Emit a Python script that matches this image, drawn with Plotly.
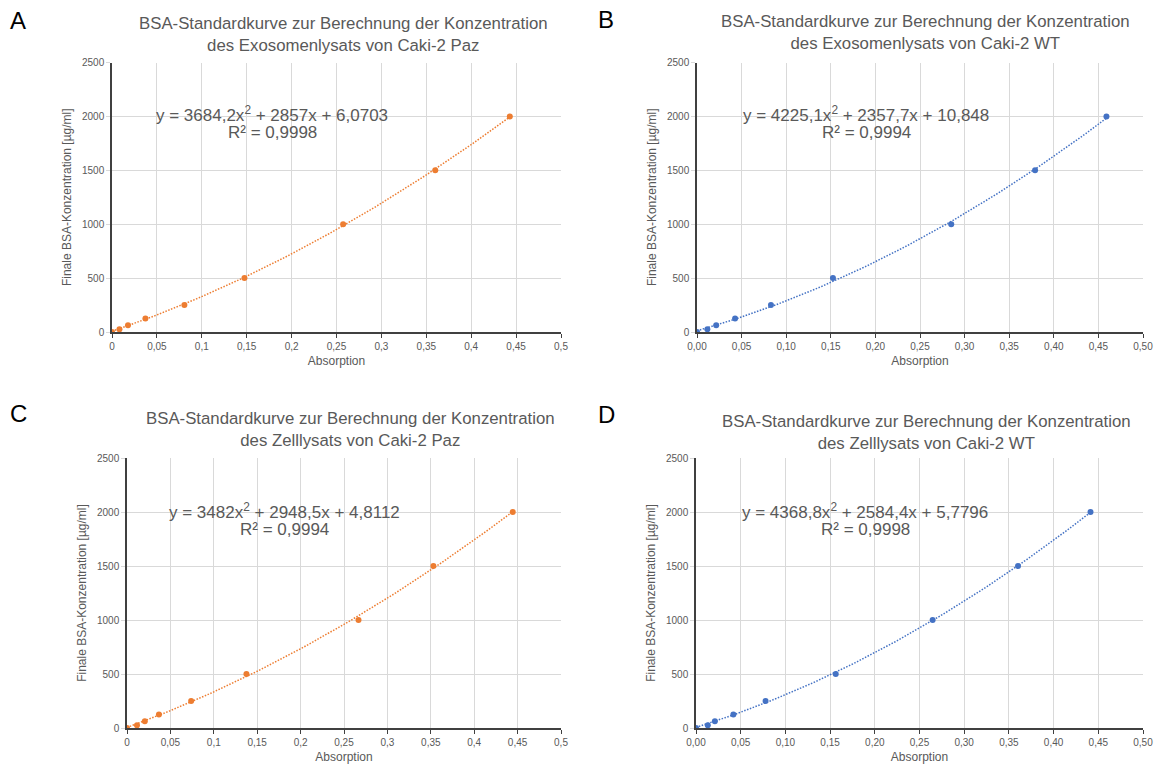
import numpy as np
import plotly.graph_objects as go

# BSA-Standards (µg/ml), gleich für alle vier Kurven
konz = [0, 25, 62.5, 125, 250, 500, 1000, 1500, 2000]

abs_exo_paz = [0, 0.0083, 0.0178, 0.0372, 0.0806, 0.1475, 0.2574, 0.360, 0.443]
abs_exo_wt = [0, 0.0116, 0.0215, 0.0427, 0.0829, 0.1524, 0.285, 0.379, 0.459]
abs_zell_paz = [0, 0.0115, 0.0205, 0.0368, 0.0739, 0.1376, 0.2667, 0.353, 0.4444]
abs_zell_wt = [0, 0.0132, 0.0211, 0.0418, 0.0778, 0.1563, 0.2647, 0.3602, 0.4413]

# Trendlinien-Koeffizienten (Polynom 2. Grades, aus Excel)
koef_exo_paz = [3684.2, 2857, 6.0703]
koef_exo_wt = [4225.1, 2357.7, 10.848]
koef_zell_paz = [3482, 2948.5, 4.8112]
koef_zell_wt = [4368.8, 2584.4, 5.7796]

gleichungen = [
    ("y = 3684,2x<sup>2</sup> + 2857x + 6,0703", "R² = 0,9998"),
    ("y = 4225,1x<sup>2</sup> + 2357,7x + 10,848", "R² = 0,9994"),
    ("y = 3482x<sup>2</sup> + 2948,5x + 4,8112", "R² = 0,9994"),
    ("y = 4368,8x<sup>2</sup> + 2584,4x + 5,7796", "R² = 0,9998"),
]

titel = [
    "BSA-Standardkurve zur Berechnung der Konzentration<br>des Exosomenlysats von Caki-2 Paz",
    "BSA-Standardkurve zur Berechnung der Konzentration<br>des Exosomenlysats von Caki-2 WT",
    "BSA-Standardkurve zur Berechnung der Konzentration<br>des Zelllysats von Caki-2 Paz",
    "BSA-Standardkurve zur Berechnung der Konzentration<br>des Zelllysats von Caki-2 WT",
]
buchstaben = ["A", "B", "C", "D"]

ORANGE = "#ED7D31"
BLAU = "#4472C4"
GRAU = "#595959"
W, H = 1158, 765

# Plotbereiche in Pixeln: links, rechts, oben, unten
bereiche = [
    (112, 561, 62.5, 332),
    (697, 1143, 62.5, 332),
    (127, 561, 458, 728),
    (696, 1143, 458, 728),
]
# Positionen der Texte in Pixeln
titel_pos = [(343, 35), (925, 33), (350, 429), (926, 432)]
buchst_pos = [(18, 20), (606, 19), (18, 413), (606, 415)]
gl_pos = [(272, 114, 132), (866, 114, 132), (284, 511, 529), (865, 511, 529)]

daten = [
    (abs_exo_paz, koef_exo_paz, ORANGE, ".2~f"),
    (abs_exo_wt, koef_exo_wt, BLAU, ".2f"),
    (abs_zell_paz, koef_zell_paz, ORANGE, ".2~f"),
    (abs_zell_wt, koef_zell_wt, BLAU, ".2f"),
]

px = lambda x: x / W
py = lambda y: 1 - y / H

fig = go.Figure()
ann = []
for i, (xs, koef, farbe, fmt) in enumerate(daten):
    n = "" if i == 0 else str(i + 1)
    xa, ya = "x" + n, "y" + n

    # Trendlinie von 0 bis zum letzten Messpunkt
    xt = np.linspace(0, max(xs), 100)
    fig.add_trace(go.Scatter(x=xt, y=np.polyval(koef, xt), mode="lines",
                             line=dict(color=farbe, width=1.5, dash="1.5px,1.5px"),
                             xaxis=xa, yaxis=ya, showlegend=False, hoverinfo="skip"))
    fig.add_trace(go.Scatter(x=xs, y=konz, mode="markers",
                             marker=dict(color=farbe, size=6),
                             xaxis=xa, yaxis=ya, showlegend=False))

    l, r, t, b = bereiche[i]
    fig.layout["xaxis" + n] = dict(
        domain=[px(l), px(r)], anchor=ya, range=[0, 0.5], dtick=0.05, tickformat=fmt,
        showgrid=True, gridcolor="#D9D9D9", gridwidth=1, zeroline=False,
        showline=True, linecolor="#404040", linewidth=1.5, automargin=False,
        ticks="outside", ticklen=4, tickcolor="#404040",
        tickfont=dict(size=10, color=GRAU),
        title=dict(text="Absorption", font=dict(size=12, color=GRAU), standoff=6),
    )
    fig.layout["yaxis" + n] = dict(
        domain=[py(b), py(t)], anchor=xa, range=[0, 2500], dtick=500, tickformat="d",
        showgrid=True, gridcolor="#D9D9D9", gridwidth=1, zeroline=False,
        showline=True, linecolor="#404040", linewidth=1.5, automargin=False,
        ticks="outside", ticklen=4, tickcolor="#D9D9D9",
        tickfont=dict(size=10, color=GRAU),
        title=dict(text="Finale BSA-Konzentration [µg/ml]", font=dict(size=12, color=GRAU), standoff=8),
    )

    tx, ty = titel_pos[i]
    ann.append(dict(text=titel[i], x=px(tx), y=py(ty), xref="paper", yref="paper",
                    xanchor="center", yanchor="middle",
                    showarrow=False, font=dict(size=16.8, color=GRAU)))
    bx, by = buchst_pos[i]
    ann.append(dict(text=buchstaben[i], x=px(bx), y=py(by), xref="paper", yref="paper",
                    xanchor="center", yanchor="middle",
                    showarrow=False, font=dict(size=24, color="black")))
    gx, gy1, gy2 = gl_pos[i]
    ann.append(dict(text=gleichungen[i][0], x=px(gx), y=py(gy1), xref="paper", yref="paper",
                    xanchor="center", yanchor="middle",
                    showarrow=False, font=dict(size=17, color=GRAU)))
    ann.append(dict(text=gleichungen[i][1], x=px(gx), y=py(gy2), xref="paper", yref="paper",
                    xanchor="center", yanchor="middle",
                    showarrow=False, font=dict(size=17, color=GRAU)))

fig.update_layout(
    width=W, height=H, margin=dict(l=0, r=0, t=0, b=0),
    paper_bgcolor="white", plot_bgcolor="white",
    separators=",.",
    font=dict(family="Liberation Sans, Arial, sans-serif", color=GRAU),
    annotations=ann,
)

# Standard-Rand der Seite entfernen, damit die Grafik bei (0,0) beginnt
fig.write_html("out.html", config={"displayModeBar": False},
               post_script="document.body.style.margin='0';")
